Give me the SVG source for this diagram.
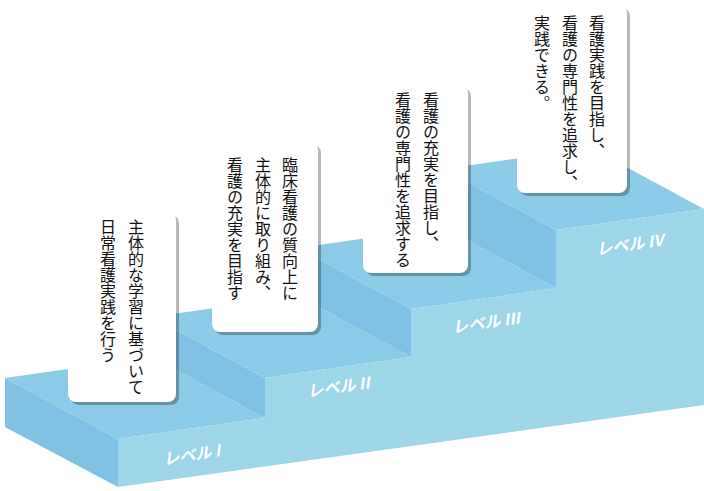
<svg xmlns="http://www.w3.org/2000/svg" width="704" height="491" viewBox="0 0 704 491">
<style>
.front{fill:#9dd5e9}
.tread{fill:#8ccbe7}
.riser{fill:#80c1e4}
.card{fill:#ffffff}
.shadow{fill:#000000;opacity:0.28}
.vt{font-family:"Noto Sans CJK JP","Noto Sans",sans-serif;font-size:16px;fill:#111111;writing-mode:vertical-rl}
.lv{font-family:"Noto Sans CJK JP","Noto Sans",sans-serif;font-size:16px;font-weight:bold;fill:#ffffff}
</style>
<rect width="704" height="491" fill="#ffffff"/>
<g id="stairs">
<polygon class="riser" points="5,378 118,439 118,487 5,427"/>
<polygon class="tread" points="5,378 118,439 265,418 152,357"/>
<polygon class="riser" points="152,357 265,418 265,378 152,317"/>
<polygon class="tread" points="152,317 265,378 411,357 298,296"/>
<polygon class="riser" points="298,296 411,357 411,309 298,248"/>
<polygon class="tread" points="298,248 411,309 556,288 443,227"/>
<polygon class="riser" points="443,227 556,288 556,230 443,169"/>
<polygon class="tread" points="443,169 556,230 704,209 591,148"/>
<polygon class="front" points="118,487 118,439 265,418 265,378 411,357 411,309 556,288 556,230 704,209 704,405"/>
</g>
<g id="level-labels">
<text class="lv" transform="translate(164,465) skewY(-9) skewX(-7)">レベル I</text>
<text class="lv" transform="translate(308,397) skewY(-8) skewX(-7)">レベル II</text>
<text class="lv" transform="translate(453,333) skewY(-8) skewX(-7)">レベル III</text>
<text class="lv" transform="translate(597,255) skewY(-8) skewX(-7)">レベル IV</text>
</g>
<g id="card1">
<rect class="shadow" x="71" y="215" width="108" height="190" rx="8"/>
<rect class="card" x="68" y="212" width="108" height="190" rx="8"/>
<text class="vt" x="136" y="219">主体的な学習に基づいて</text>
<text class="vt" x="108" y="219">日常看護実践を行う</text>
</g>
<g id="card2">
<rect class="shadow" x="215" y="145" width="106" height="190" rx="8"/>
<rect class="card" x="212" y="142" width="106" height="190" rx="8"/>
<text class="vt" x="290" y="157">臨床看護の質向上に</text>
<text class="vt" x="263" y="157">主体的に取り組み、</text>
<text class="vt" x="235" y="157">看護の充実を目指す</text>
</g>
<g id="card3">
<rect class="shadow" x="366" y="88" width="105" height="188" rx="8"/>
<rect class="card" x="363" y="85" width="105" height="188" rx="8"/>
<text class="vt" x="431" y="92">看護の充実を目指し、</text>
<text class="vt" x="403" y="92">看護の専門性を追求する</text>
</g>
<g id="card4">
<rect class="shadow" x="520" y="8" width="110" height="188" rx="8"/>
<rect class="card" x="517" y="5" width="110" height="188" rx="8"/>
<text class="vt" x="597" y="15">看護実践を目指し、</text>
<text class="vt" x="570" y="15">看護の専門性を追求し、</text>
<text class="vt" x="542" y="15">実践できる。</text>
</g>
</svg>
